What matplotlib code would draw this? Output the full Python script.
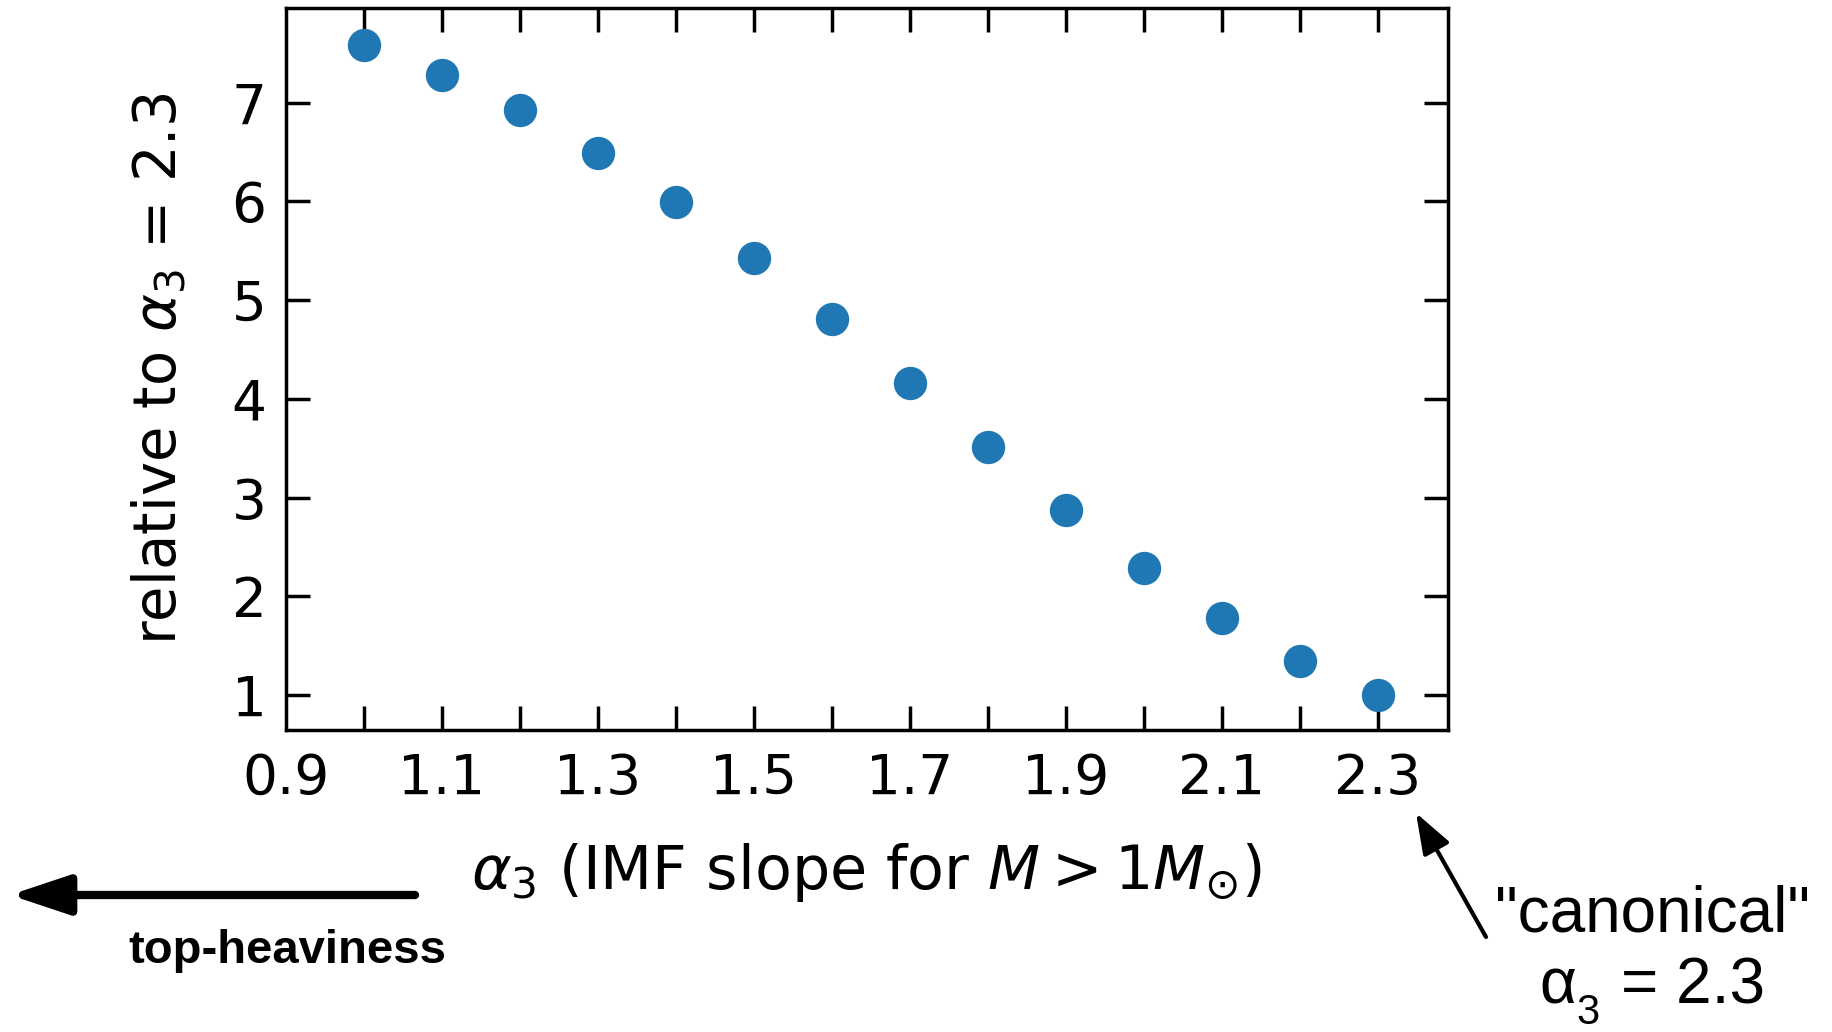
import matplotlib
matplotlib.use("Agg")
from matplotlib import pyplot as plt

# IMF slope values and the quantity relative to alpha_3 = 2.3
alpha3 = [1.0, 1.1, 1.2, 1.3, 1.4, 1.5, 1.6, 1.7, 1.8, 1.9, 2.0, 2.1, 2.2, 2.3]
relative = [7.59, 7.28, 6.93, 6.49, 5.99, 5.43, 4.81, 4.16, 3.51, 2.87, 2.29, 1.78, 1.34, 1.00]

xtick_pos = [0.9, 1.0, 1.1, 1.2, 1.3, 1.4, 1.5, 1.6, 1.7, 1.8, 1.9, 2.0, 2.1, 2.2, 2.3]
xtick_lab = ["0.9", "", "1.1", "", "1.3", "", "1.5", "", "1.7", "", "1.9", "", "2.1", "", "2.3"]
ytick_pos = [1, 2, 3, 4, 5, 6, 7]

W, H = 1832, 1032
fig = plt.figure(figsize=(W / 100, H / 100), dpi=100)
ax = fig.add_axes([286 / W, 1 - 730 / H, (1448 - 286) / W, (730 - 8) / H])

ax.plot(alpha3, relative, 'o', color='#1f77b4', ms=24, mec='none')

ax.set_xlim(0.9, 2.39)
ax.set_ylim(0.645, 7.96)

ax.set_xticks(xtick_pos)
ax.set_xticklabels(xtick_lab)
ax.set_yticks(ytick_pos)
ax.tick_params(axis='both', which='major', direction='in', length=17, width=2.5,
               top=True, right=True, labelsize=39.5)
ax.tick_params(axis='x', pad=16)
ax.tick_params(axis='y', pad=14)
# no tick mark at the 0.9 edge
t0 = ax.xaxis.get_major_ticks()[0]
t0.tick1line.set_visible(False)
t0.tick2line.set_visible(False)
for s in ax.spines.values():
    s.set_linewidth(2.5)

ax.set_xlabel(r"$\alpha_3$ (IMF slope for $M > 1 M_{\odot}$)", fontsize=43.5, labelpad=25)
ax.set_ylabel(r"relative to $\alpha_3$ = 2.3", fontsize=41.5, labelpad=31)

# top-heaviness arrow
ax.annotate("", xy=(10 / W, 1 - 895 / H), xytext=(415 / W, 1 - 895 / H),
            xycoords='figure fraction', textcoords='figure fraction',
            arrowprops=dict(arrowstyle='-|>,head_length=3.6,head_width=1.2',
                            lw=6, color='black', shrinkA=0, shrinkB=0),
            annotation_clip=False)
fig.text(287 / W, 1 - 951 / H, "top-heaviness", fontsize=34, fontweight='bold',
         family='Liberation Sans', ha='center', va='center')

# canonical annotation
ax.annotate("", xy=(1416 / W, 1 - 813 / H), xytext=(1486 / W, 1 - 937 / H),
            xycoords='figure fraction', textcoords='figure fraction',
            arrowprops=dict(arrowstyle='-|>,head_length=2.5,head_width=0.9',
                            lw=3, color='black', shrinkA=0, shrinkB=0),
            annotation_clip=False)
fig.text(1653 / W, 1 - 915 / H, '"canonical"', fontsize=46,
         family='Liberation Sans', ha='center', va='center')
fig.text(1539 / W, 1 - 987 / H, "\u03b1", fontsize=46,
         family='Liberation Sans', ha='left', va='center')
fig.text(1576 / W, 1 - 1013 / H, "3", fontsize=30,
         family='Liberation Sans', ha='left', va='center')
fig.text(1621 / W, 1 - 987 / H, "= 2.3", fontsize=46,
         family='Liberation Sans', ha='left', va='center')

fig.savefig("out.png", dpi=100)
